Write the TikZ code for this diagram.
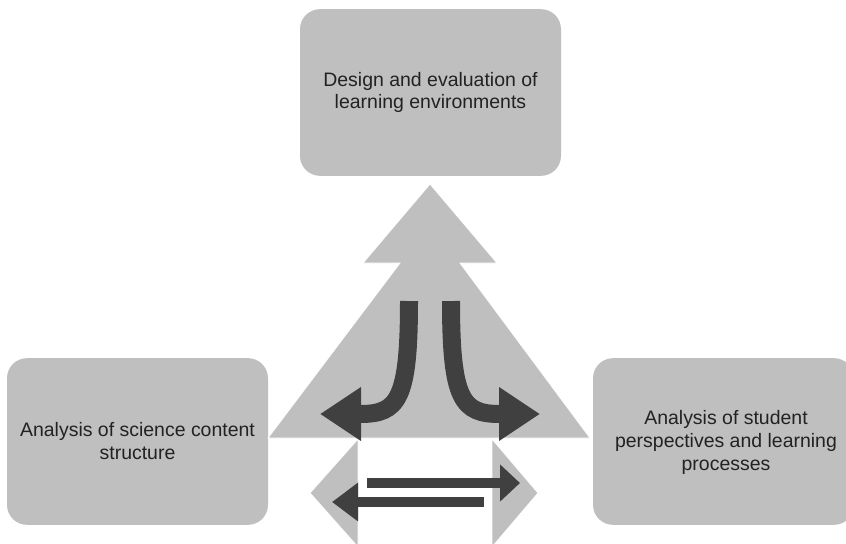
\documentclass[tikz,border=0pt]{standalone}
\usepackage{fontspec}
\setmainfont{Liberation Sans}
\usetikzlibrary{arrows.meta}
\definecolor{boxgray}{HTML}{BFBFBF}
\definecolor{darkarrow}{HTML}{404040}
\definecolor{txt}{HTML}{222222}
\tikzset{
  box/.style={draw=none, fill=boxgray, rounded corners=15pt, minimum width=195.75pt, minimum height=125pt, inner sep=0pt, align=center, text=txt},
  grayshape/.style={fill=boxgray, draw=white, line width=0.6pt},
  curvearrow/.style={draw=darkarrow, line width=13.5pt, -{Triangle[length=30.75pt, width=38.25pt]}},
  straightarrow/.style={draw=darkarrow, line width=7.5pt}
}
\begin{document}
\begin{tikzpicture}[x=0.75pt, y=-0.75pt]
\useasboundingbox (0,0) rectangle (846,543);
\clip (0,0) rectangle (846,543);
% boxes
\node[box, font=\fontsize{14.6}{16}\selectfont] (top) at (430.5,92.5) {Design and evaluation of\\learning environments};
\node[box, font=\fontsize{14.6}{17.25}\selectfont] (left) at (137.5,441.5) {Analysis of science content\\structure};
\node[box, minimum width=195.75pt] (right) at (723.5,441.5) {};
\node[text=txt, align=center, font=\fontsize{14.6}{17.25}\selectfont] (rightlabel) at (726,442) {Analysis of student\\perspectives and learning\\processes};
% big up-arrow / triangle
\coordinate (tip) at (430,184);
\draw[grayshape] (tip) -- (497,263) -- (460,263) -- (590,438) -- (268,438) -- (400,263) -- (363,263) -- cycle;
% lower double arrow heads
\draw[grayshape] (358,439) -- (310,493) -- (358,547) -- cycle;
\draw[grayshape] (492,439) -- (538,493) -- (492,547) -- cycle;
% curved arrows
\coordinate (cl0) at (409,301);
\coordinate (cl1) at (320,414);
\coordinate (cr0) at (451,301);
\coordinate (cr1) at (540,414);
\draw[curvearrow] (cl0) .. controls (409,400) and (398,414) .. (360,414) -- (cl1);
\draw[curvearrow] (cr0) .. controls (451,400) and (462,414) .. (500,414) -- (cr1);
% straight arrows
\coordinate (sr0) at (367,483);
\coordinate (sr1) at (520,483);
\coordinate (sl0) at (484,502);
\coordinate (sl1) at (332,502);
\draw[straightarrow, -{Triangle[length=15pt, width=27pt]}] (sr0) -- (sr1);
\draw[straightarrow, -{Triangle[length=19.5pt, width=27.75pt]}] (sl0) -- (sl1);
\end{tikzpicture}
\end{document}
